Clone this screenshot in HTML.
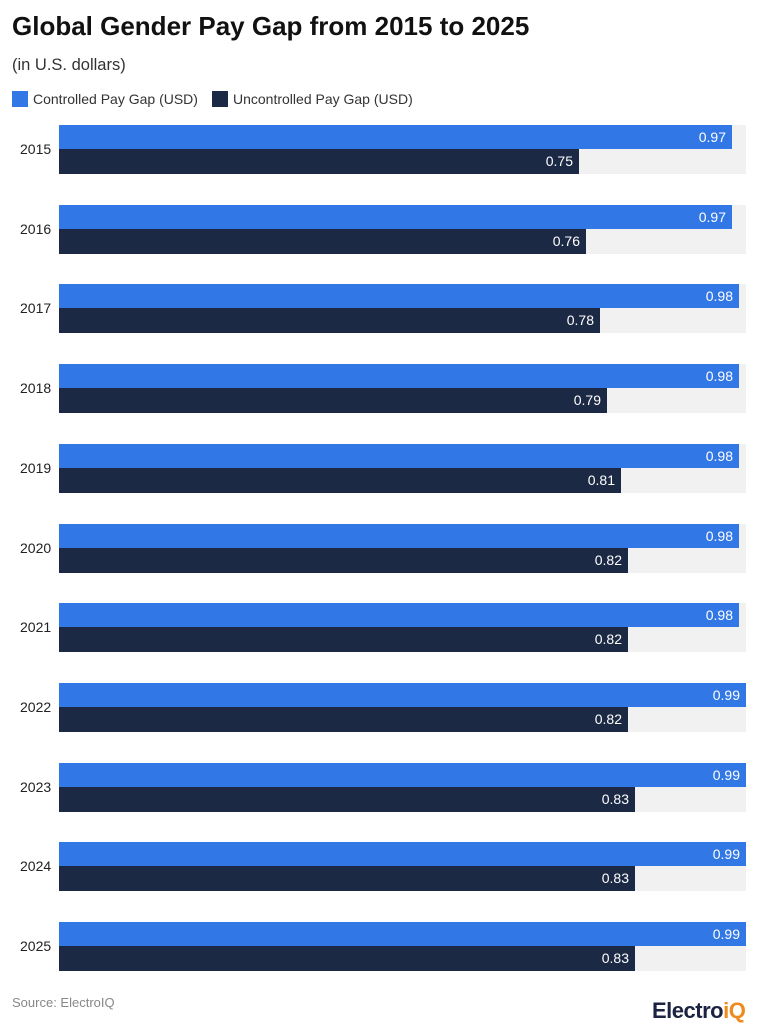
<!DOCTYPE html>
<html><head><meta charset="utf-8"><style>
body{margin:0;width:760px;height:1024px;background:#fff;font-family:"Liberation Sans",Arial,sans-serif;position:relative;overflow:hidden}
.a{position:absolute}
h1{position:absolute;left:12px;top:11px;margin:0;font-size:26px;font-weight:bold;color:#111;letter-spacing:0}
.sub{left:12px;top:56px;font-size:16.5px;color:#333}
.lg{top:91px;font-size:14px;color:#333}
.sw{width:16px;height:16px;top:91px}
.bg{left:59px;width:687px;height:49px;background:#f1f1f1}
.b1,.b2{left:59px;height:24px;color:#fff;font-size:14px;text-align:right;box-sizing:border-box;padding-right:6px;line-height:24px}
.b1{background:#3277e6}
.b2{background:#1c2945;height:25px;line-height:25px}
.y{left:20px;font-size:14px;color:#222}
</style></head><body>
<h1>Global Gender Pay Gap from 2015 to 2025</h1>
<div class="a sub">(in U.S. dollars)</div>
<div class="a sw" style="left:12px;background:#3277e6"></div>
<div class="a lg" style="left:33px">Controlled Pay Gap (USD)</div>
<div class="a sw" style="left:212px;background:#1c2945"></div>
<div class="a lg" style="left:233px">Uncontrolled Pay Gap (USD)</div>

<div class="a bg" style="top:125px"></div><div class="a b1" style="top:125px;width:673px">0.97</div><div class="a b2" style="top:149px;width:520px">0.75</div><div class="a y" style="top:141px">2015</div>
<div class="a bg" style="top:205px"></div><div class="a b1" style="top:205px;width:673px">0.97</div><div class="a b2" style="top:229px;width:527px">0.76</div><div class="a y" style="top:221px">2016</div>
<div class="a bg" style="top:284px"></div><div class="a b1" style="top:284px;width:680px">0.98</div><div class="a b2" style="top:308px;width:541px">0.78</div><div class="a y" style="top:300px">2017</div>
<div class="a bg" style="top:364px"></div><div class="a b1" style="top:364px;width:680px">0.98</div><div class="a b2" style="top:388px;width:548px">0.79</div><div class="a y" style="top:380px">2018</div>
<div class="a bg" style="top:444px"></div><div class="a b1" style="top:444px;width:680px">0.98</div><div class="a b2" style="top:468px;width:562px">0.81</div><div class="a y" style="top:460px">2019</div>
<div class="a bg" style="top:524px"></div><div class="a b1" style="top:524px;width:680px">0.98</div><div class="a b2" style="top:548px;width:569px">0.82</div><div class="a y" style="top:540px">2020</div>
<div class="a bg" style="top:603px"></div><div class="a b1" style="top:603px;width:680px">0.98</div><div class="a b2" style="top:627px;width:569px">0.82</div><div class="a y" style="top:619px">2021</div>
<div class="a bg" style="top:683px"></div><div class="a b1" style="top:683px;width:687px">0.99</div><div class="a b2" style="top:707px;width:569px">0.82</div><div class="a y" style="top:699px">2022</div>
<div class="a bg" style="top:763px"></div><div class="a b1" style="top:763px;width:687px">0.99</div><div class="a b2" style="top:787px;width:576px">0.83</div><div class="a y" style="top:779px">2023</div>
<div class="a bg" style="top:842px"></div><div class="a b1" style="top:842px;width:687px">0.99</div><div class="a b2" style="top:866px;width:576px">0.83</div><div class="a y" style="top:858px">2024</div>
<div class="a bg" style="top:922px"></div><div class="a b1" style="top:922px;width:687px">0.99</div><div class="a b2" style="top:946px;width:576px">0.83</div><div class="a y" style="top:938px">2025</div>

<div class="a" style="left:12px;top:995px;font-size:13px;color:#888">Source: ElectroIQ</div>
<div class="a" style="left:652px;top:998px;font-size:22px;font-weight:bold;color:#1c2340;letter-spacing:-0.5px">Electro<span style="color:#f08a1c">iQ</span></div>
</body></html>
